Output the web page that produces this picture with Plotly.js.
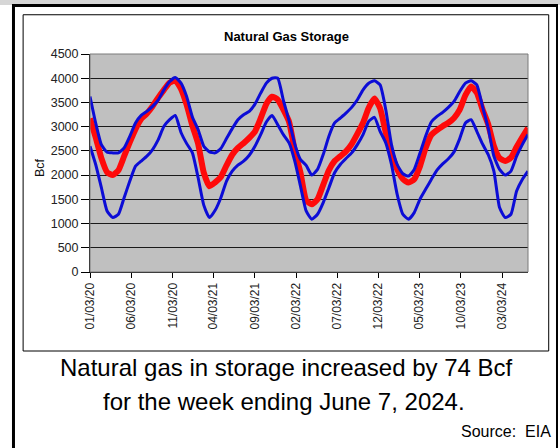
<!DOCTYPE html>
<html>
<head>
<meta charset="utf-8">
<script src="https://cdn.plot.ly/plotly-3.0.1.min.js"></script>
<style>
  html, body { margin: 0; padding: 0; background: #ffffff; }
  #chart { width: 560px; height: 448px; }
</style>
</head>
<body>
<div id="chart"></div>
<script>
// Weekly report dates (every third week), 2020-01-03 .. 2024-06-07
var weekDates = [
  "2020-01-03","2020-01-24","2020-02-14","2020-03-06","2020-03-27","2020-04-17","2020-05-08","2020-05-29","2020-06-19","2020-07-10","2020-07-31","2020-08-21","2020-09-11","2020-10-02","2020-10-23","2020-11-13","2020-12-04","2020-12-25",
  "2021-01-15","2021-02-05","2021-02-26","2021-03-19","2021-04-09","2021-04-30","2021-05-21","2021-06-11","2021-07-02","2021-07-23","2021-08-13","2021-09-03","2021-09-24","2021-10-15","2021-11-05","2021-11-26","2021-12-17",
  "2022-01-07","2022-01-28","2022-02-18","2022-03-11","2022-04-01","2022-04-22","2022-05-13","2022-06-03","2022-06-24","2022-07-15","2022-08-05","2022-08-26","2022-09-16","2022-10-07","2022-10-28","2022-11-18","2022-12-09","2022-12-30",
  "2023-01-20","2023-02-10","2023-03-03","2023-03-24","2023-04-14","2023-05-05","2023-05-26","2023-06-16","2023-07-07","2023-07-28","2023-08-18","2023-09-08","2023-09-29","2023-10-20","2023-11-10","2023-12-01","2023-12-22",
  "2024-01-12","2024-02-02","2024-02-23","2024-03-15","2024-04-05","2024-04-26","2024-05-17","2024-06-07"
];

// Working gas in storage (Bcf) - red line
var storage = [
  3170,2780,2350,2060,2000,2100,2390,2680,2950,3160,3270,3420,3600,3760,3910,3955,3780,3450,
  3020,2650,2050,1770,1850,1960,2200,2420,2560,2660,2770,2900,3170,3470,3620,3560,3350,
  3100,2500,2050,1480,1400,1500,1800,2100,2290,2390,2490,2640,2850,3080,3390,3580,3380,2880,
  2450,2120,1920,1845,1915,2180,2560,2830,2930,3010,3080,3180,3350,3650,3830,3700,3360,
  3050,2600,2350,2290,2360,2580,2780,2974
];

// Five-year maximum (Bcf) - upper blue line
var fiveYearMax = [
  3624,3076,2630,2473,2459,2459,2562,2802,3076,3233,3315,3418,3555,3760,3932,4014,3900,3620,
  3200,2940,2596,2480,2459,2548,2754,2959,3144,3247,3315,3466,3692,3898,4000,4000,3540,
  3120,2640,2322,2200,2000,2117,2425,2802,3076,3178,3281,3398,3555,3760,3898,3946,3863,3350,
  2630,2219,2028,1980,2117,2450,2802,3096,3213,3295,3398,3521,3726,3898,3946,3863,3418,
  2973,2391,2117,2000,2082,2391,2630,2836
];

// Five-year minimum (Bcf) - lower blue line
var fiveYearMin = [
  2596,2219,1740,1260,1123,1192,1534,1877,2185,2288,2391,2528,2733,3007,3144,3230,2880,2650,
  2460,1950,1380,1123,1274,1534,1877,2082,2206,2288,2411,2596,2836,3096,3233,3041,2836,
  2665,2288,1774,1260,1089,1192,1432,1740,2048,2219,2343,2459,2630,2836,3110,3192,2904,2665,
  2219,1603,1192,1089,1226,1500,1706,1911,2103,2233,2336,2480,2754,3076,3144,2904,2644,
  2425,2082,1329,1123,1192,1671,1911,2082
];

var tickDates = ["2020-01-03","2020-06-03","2020-11-03","2021-04-03","2021-09-03","2022-02-03","2022-07-03","2022-12-03","2023-05-03","2023-10-03","2024-03-03"];
var tickLabels = ["01/03/20","06/03/20","11/03/20","04/03/21","09/03/21","02/03/22","07/03/22","12/03/22","05/03/23","10/03/23","03/03/24"];

var chartTitle = "Natural Gas Storage";
var yLabel = "Bcf";
var caption1 = "Natural gas in storage increased by 74 Bcf";
var caption2 = "for the week ending June 7, 2024.";
var sourceText = "Source:&nbsp;&nbsp;EIA";

var FONT = "Liberation Sans, Arial, Helvetica, sans-serif";
var BLUE = "#0c0cd6";
var RED = "#ff0a0a";

var traces = [
  {x: weekDates, y: storage, type: "scatter", mode: "lines", name: "Storage",
   line: {color: RED, width: 6, shape: "spline", smoothing: 0.5}, hoverinfo: "skip"},
  {x: weekDates, y: fiveYearMax, type: "scatter", mode: "lines", name: "5-yr max",
   line: {color: BLUE, width: 3, shape: "spline", smoothing: 0.5}, hoverinfo: "skip"},
  {x: weekDates, y: fiveYearMin, type: "scatter", mode: "lines", name: "5-yr min",
   line: {color: BLUE, width: 3, shape: "spline", smoothing: 0.5}, hoverinfo: "skip"}
];

var layout = {
  width: 560, height: 448,
  margin: {l: 90, r: 32, t: 54, b: 176, pad: 0},
  paper_bgcolor: "#ffffff",
  plot_bgcolor: "#c0c0c0",
  showlegend: false,
  font: {family: FONT, color: "#222222", size: 12.5},
  xaxis: {
    type: "date",
    range: [weekDates[0], weekDates[weekDates.length - 1]],
    tickmode: "array", tickvals: tickDates, ticktext: tickLabels,
    tickangle: -90, ticks: "outside", ticklen: 5, tickcolor: "#000000",
    showgrid: false, zeroline: false,
    showline: true, linecolor: "#000000", linewidth: 1,
    tickfont: {family: FONT, size: 12, color: "#222222"}
  },
  yaxis: {
    range: [0, 4500], dtick: 500, tick0: 0,
    ticks: "outside", ticklen: 8, tickcolor: "#000000",
    showgrid: true, gridcolor: "#1a1a1a", gridwidth: 1,
    zeroline: false, showline: true, linecolor: "#000000", linewidth: 1,
    tickfont: {family: FONT, size: 12.5, color: "#222222"}
  },
  shapes: [
    // plot area border
    {type: "rect", xref: "paper", yref: "paper", x0: 0, x1: 1, y0: 0, y1: 1,
     line: {color: "#7a7a7a", width: 1}, layer: "above"},
    // inner chart box
    {type: "rect", xref: "paper", yref: "paper", x0: -0.1527, x1: 1.0473, y0: -0.3624, y1: 1.180,
     line: {color: "#000000", width: 1}, layer: "below"},
    // top light band
    {type: "rect", xref: "paper", yref: "paper", x0: -0.2055, x1: 1.0731, y0: 1.2248, y1: 1.2477,
     line: {width: 0}, fillcolor: "#d6d6d6", layer: "below"},
    // outer frame: top, left, right
    {type: "line", xref: "paper", yref: "paper", x0: -0.178, x1: 1.067, y0: 1.2225, y1: 1.2225,
     line: {color: "#000000", width: 3}},
    {type: "line", xref: "paper", yref: "paper", x0: -0.1747, x1: -0.1747, y0: 1.229, y1: -0.85,
     line: {color: "#000000", width: 3}},
    {type: "line", xref: "paper", yref: "paper", x0: 1.0662, x1: 1.0662, y0: 1.229, y1: -0.85,
     line: {color: "#000000", width: 2}}
  ],
  annotations: [
    {text: "<b>" + chartTitle + "</b>", xref: "paper", yref: "paper", x: 0.4486, y: 1.0794,
     xanchor: "center", yanchor: "middle", showarrow: false,
     font: {family: FONT, size: 13, color: "#000000"}},
    {text: yLabel, xref: "paper", yref: "paper", x: -0.114, y: 0.477, textangle: -90,
     xanchor: "center", yanchor: "middle", showarrow: false,
     font: {family: FONT, size: 12.5, color: "#111111"}},
    {text: caption1, xref: "paper", yref: "paper", x: 0.4486, y: -0.440,
     xanchor: "center", yanchor: "middle", showarrow: false,
     font: {family: FONT, size: 24, color: "#000000"}},
    {text: caption2, xref: "paper", yref: "paper", x: 0.444, y: -0.594,
     xanchor: "center", yanchor: "middle", showarrow: false,
     font: {family: FONT, size: 24, color: "#000000"}},
    {text: sourceText, xref: "paper", yref: "paper", x: 1.057, y: -0.7326,
     xanchor: "right", yanchor: "middle", showarrow: false,
     font: {family: FONT, size: 16, color: "#000000"}}
  ]
};

Plotly.newPlot("chart", traces, layout, {staticPlot: true, displayModeBar: false});
</script>
</body>
</html>
